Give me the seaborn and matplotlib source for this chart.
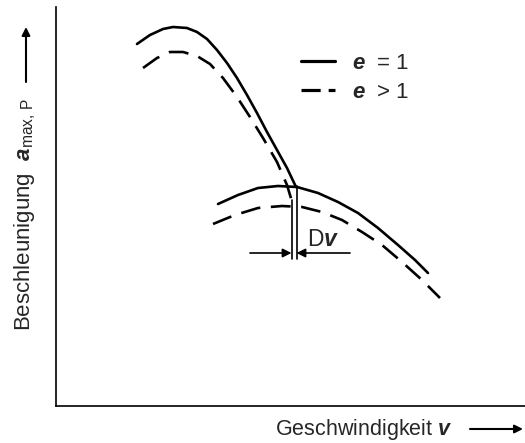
import matplotlib
matplotlib.use("Agg")
import matplotlib.pyplot as plt
import seaborn as sns
import pandas as pd
from matplotlib.lines import Line2D

sns.set_theme(style="white")
plt.rcParams["font.family"] = ["Liberation Sans", "DejaVu Sans"]
plt.rcParams["mathtext.fontset"] = "custom"
plt.rcParams["mathtext.rm"] = "Liberation Sans"
plt.rcParams["mathtext.it"] = "Liberation Sans:italic"
plt.rcParams["mathtext.bf"] = "Liberation Sans:bold"
plt.rcParams["mathtext.bfit"] = "Liberation Sans:bold:italic"

# Traction curves of two gears (speed v, max. acceleration a), for e = 1 and e > 1
gear1_e1_v = [81, 94, 107, 117, 131, 141, 151, 161, 171, 181, 191, 201, 211, 221, 231, 240]
gear1_e1_a = [362, 371, 377, 379, 378, 374, 367, 356, 343, 328, 311, 293, 274, 256, 238, 219]
gear1_eg_v = [87, 101, 114, 127, 141, 154, 167, 181, 194, 207, 221, 231, 237]
gear1_eg_a = [338, 348, 354, 354, 350, 342, 328, 309, 289, 268, 244, 221, 201]
gear2_e1_v = [162, 182, 202, 222, 241, 262, 282, 302, 322, 342, 359, 372]
gear2_e1_a = [202, 211, 218, 220, 219, 213, 204, 193, 178, 161, 146, 133]
gear2_eg_v = [157, 179, 202, 226, 246, 266, 286, 306, 326, 346, 366, 384]
gear2_eg_a = [182, 191, 198, 200, 199, 194, 186, 174, 161, 144, 126, 108]

legend_labels = [r"$\mathbfit{e}$  = 1", r"$\mathbfit{e}$  > 1"]

# Speed difference between the two shift points
dv_left, dv_right = 235.5, 240.5
dv_left_top, dv_right_top, dv_bottom = 206, 220, 147
dv_arrow_y, dv_arrow_from, dv_arrow_to = 153, 194, 294

W, H = 525, 443
fig = plt.figure(figsize=(W / 100, H / 100), dpi=100)
ax = fig.add_axes([56 / W, (H - 406) / H, (W - 56) / W, (406 - 7) / H])

curves = [
    (gear1_e1_v, gear1_e1_a, "-"),
    (gear1_eg_v, gear1_eg_a, "--"),
    (gear2_e1_v, gear2_e1_a, "-"),
    (gear2_eg_v, gear2_eg_a, "--"),
]
for v, a, ls in curves:
    df = pd.DataFrame({"v": v, "a": a})
    sns.lineplot(data=df, x="v", y="a", ax=ax, sort=False, estimator=None,
                 color="black", lw=1.9, legend=False)
    line = ax.get_lines()[-1]
    line.set_solid_joinstyle("round")
    line.set_dash_joinstyle("round")
    if ls == "--":
        line.set_dashes((7.5, 4.0))

# Delta v bracket
ax.plot([dv_left, dv_left], [dv_bottom, dv_left_top], color="black", lw=1.2)
ax.plot([dv_right, dv_right], [dv_bottom, dv_right_top], color="black", lw=1.2)
ax.annotate("", xy=(dv_left, dv_arrow_y), xytext=(dv_arrow_from, dv_arrow_y),
            arrowprops=dict(arrowstyle="-|>", color="black", lw=1.2,
                            mutation_scale=13, shrinkA=0, shrinkB=0))
ax.annotate("", xy=(dv_right, dv_arrow_y), xytext=(dv_arrow_to, dv_arrow_y),
            arrowprops=dict(arrowstyle="-|>", color="black", lw=1.2,
                            mutation_scale=13, shrinkA=0, shrinkB=0))
ax.text(251, 166, r"D$\mathbfit{v}$", fontsize=16.5, ha="left", va="center")

ax.set_xlim(0, W - 56)
ax.set_ylim(0, 406 - 7)
ax.set_xticks([])
ax.set_yticks([])
ax.set_xlabel("")
ax.set_ylabel("")
for side in ("top", "right"):
    ax.spines[side].set_visible(False)
for side in ("left", "bottom"):
    ax.spines[side].set_color("black")
    ax.spines[side].set_linewidth(1.2)

# Legend with its own line samples
leg_handles = [Line2D([], [], color="black", lw=2.3),
               Line2D([], [], color="black", lw=2.3, dashes=(6.0, 2.5))]
ax.legend(leg_handles, legend_labels, loc="upper left",
          bbox_to_anchor=(301 / W, 1 - 53 / H), bbox_transform=fig.transFigure,
          frameon=False, fontsize=16, handlelength=1.55, handletextpad=0.75,
          borderpad=0, borderaxespad=0, labelspacing=0.35)

fig.text(364 / W, 1 - 430 / H, r"Geschwindigkeit $\mathbfit{v}$", fontsize=15.5,
         ha="center", va="center")
fig.text(25 / W, 1 - 214 / H, r"Beschleunigung  $\mathbfit{a}_{\mathrm{max,\,P}}$",
         fontsize=16, rotation=90, ha="center", va="center")

arrow = dict(arrowstyle="-|>", color="black", lw=1.5, mutation_scale=12,
             shrinkA=0, shrinkB=0)
ax.annotate("", xy=(26 / W, 1 - 27 / H), xytext=(26 / W, 1 - 82 / H),
            xycoords="figure fraction", textcoords="figure fraction", arrowprops=arrow)
ax.annotate("", xy=(523 / W, 1 - 429 / H), xytext=(470 / W, 1 - 429 / H),
            xycoords="figure fraction", textcoords="figure fraction", arrowprops=arrow)

fig.savefig("out.png", dpi=100)
